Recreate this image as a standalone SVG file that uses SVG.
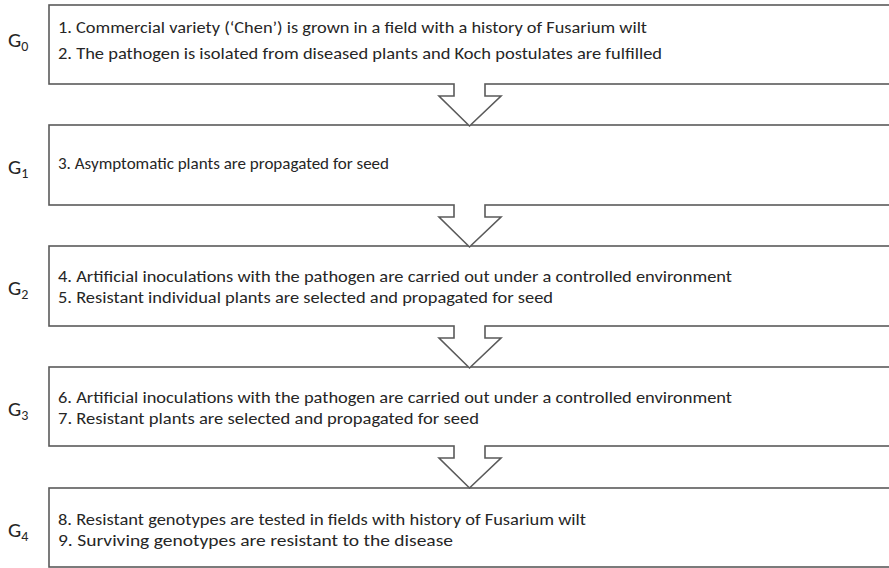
<svg xmlns="http://www.w3.org/2000/svg" width="889" height="568" viewBox="0 0 889 568">
<style>
.box{fill:#fff;stroke:#5a5a5a;stroke-width:1.6}
.t{font-family:Carlito,Calibri,"Liberation Sans",sans-serif;font-size:16px;fill:#262626}
.g{font-family:Carlito,Calibri,"Liberation Sans",sans-serif;font-size:21px;fill:#262626}
.sub{font-size:14px;font-variant-numeric:lining-nums}
.arr{fill:#fff;stroke:#5a5a5a;stroke-width:1.6;stroke-linejoin:miter}
.gap{stroke:#fff;stroke-width:3}
</style>
<rect width="889" height="568" fill="#fff"/>
<g id="g0">
<rect class="box" x="49" y="5" width="850" height="79"/>
<text class="g" x="8" y="47">G<tspan class="sub" dy="4">0</tspan></text>
<text class="t" x="58" y="33" textLength="589" lengthAdjust="spacingAndGlyphs">1. Commercial variety (‘Chen’) is grown in a field with a history of Fusarium wilt</text>
<text class="t" x="58" y="59" textLength="604" lengthAdjust="spacingAndGlyphs">2. The pathogen is isolated from diseased plants and Koch postulates are fulfilled</text>
</g>
<g id="g1">
<rect class="box" x="49" y="125" width="850" height="80"/>
<text class="g" x="8" y="174">G<tspan class="sub" dy="4">1</tspan></text>
<text class="t" x="58" y="169" textLength="331" lengthAdjust="spacingAndGlyphs">3. Asymptomatic plants are propagated for seed</text>
</g>
<g id="g2">
<rect class="box" x="49" y="246" width="850" height="80"/>
<text class="g" x="8" y="295">G<tspan class="sub" dy="4">2</tspan></text>
<text class="t" x="58" y="282" textLength="674" lengthAdjust="spacingAndGlyphs">4. Artificial inoculations with the pathogen are carried out under a controlled environment</text>
<text class="t" x="58" y="303" textLength="495" lengthAdjust="spacingAndGlyphs">5. Resistant individual plants are selected and propagated for seed</text>
</g>
<g id="g3">
<rect class="box" x="49" y="367" width="850" height="79"/>
<text class="g" x="8" y="416">G<tspan class="sub" dy="4">3</tspan></text>
<text class="t" x="58" y="403" textLength="674" lengthAdjust="spacingAndGlyphs">6. Artificial inoculations with the pathogen are carried out under a controlled environment</text>
<text class="t" x="58" y="424" textLength="421" lengthAdjust="spacingAndGlyphs">7. Resistant plants are selected and propagated for seed</text>
</g>
<g id="g4">
<rect class="box" x="49" y="488" width="850" height="79"/>
<text class="g" x="8" y="537">G<tspan class="sub" dy="4">4</tspan></text>
<text class="t" x="58" y="525" textLength="528" lengthAdjust="spacingAndGlyphs">8. Resistant genotypes are tested in fields with history of Fusarium wilt</text>
<text class="t" x="58" y="546" textLength="395" lengthAdjust="spacingAndGlyphs">9. Surviving genotypes are resistant to the disease</text>
</g>
<g id="connectors">
<line class="gap" x1="454.8" y1="84" x2="484.2" y2="84"/>
<polyline class="arr" points="454,84 454,96 439,96 469.5,126 501,96 485,96 485,84"/>
<line class="gap" x1="454.8" y1="205" x2="484.2" y2="205"/>
<polyline class="arr" points="454,205 454,217 439,217 469.5,247 501,217 485,217 485,205"/>
<line class="gap" x1="454.8" y1="326" x2="484.2" y2="326"/>
<polyline class="arr" points="454,326 454,338 439,338 469.5,368 501,338 485,338 485,326"/>
<line class="gap" x1="454.8" y1="446" x2="484.2" y2="446"/>
<polyline class="arr" points="454,446 454,458 439,458 469.5,488 501,458 485,458 485,446"/>
</g>
</svg>
